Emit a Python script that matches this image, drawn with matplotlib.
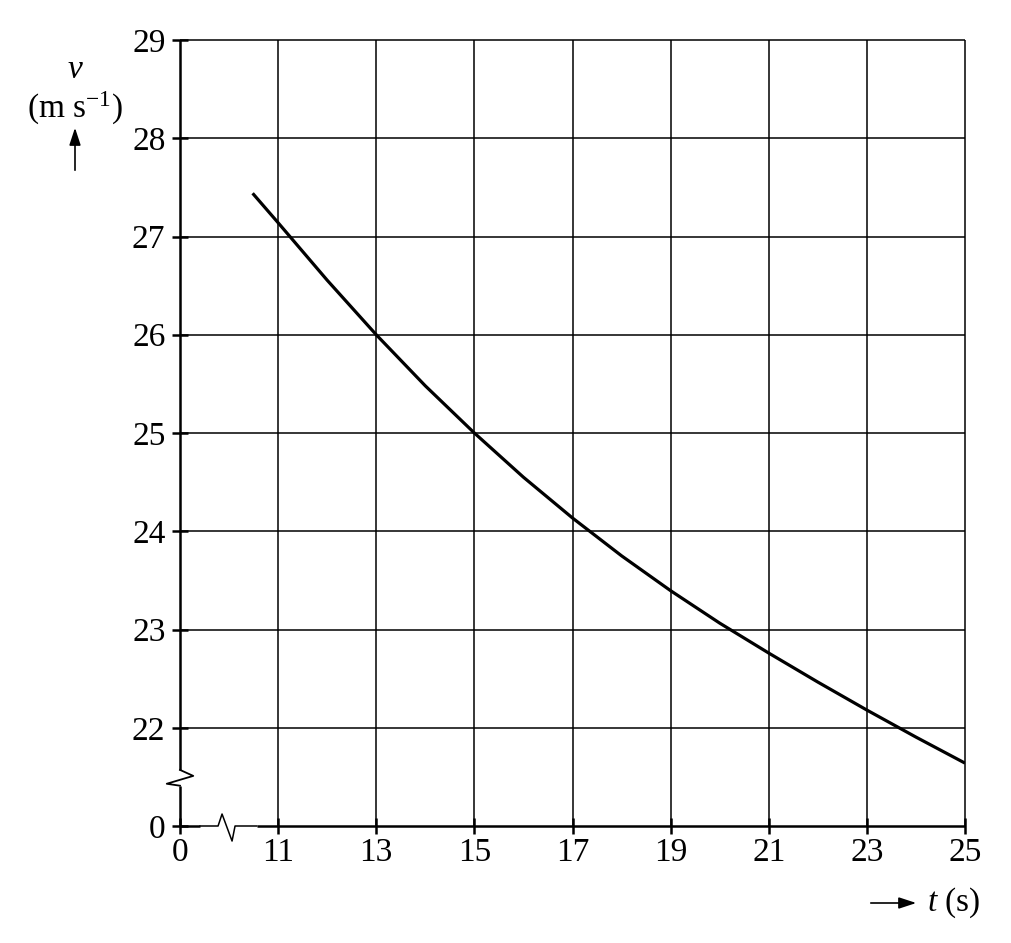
import matplotlib
matplotlib.use('Agg')
import matplotlib.pyplot as plt
import numpy as np

plt.rcParams['font.family'] = 'serif'
plt.rcParams['font.serif'] = ['Liberation Serif', 'DejaVu Serif']
plt.rcParams['mathtext.fontset'] = 'custom'
plt.rcParams['mathtext.rm'] = 'Liberation Serif'
plt.rcParams['mathtext.it'] = 'Liberation Serif:italic'

# speed-time readings (t in s, v in m/s)
t = [10.48, 11, 12, 13, 14, 15, 16, 17, 18, 19, 20, 21, 22, 23, 24, 25]
v = [27.44, 27.14, 26.555, 26.0, 25.48, 25.0, 24.55, 24.135, 23.75, 23.395,
     23.065, 22.76, 22.465, 22.18, 21.905, 21.64]

t_ticks = [0, 11, 13, 15, 17, 19, 21, 23, 25]
v_ticks = [0, 22, 23, 24, 25, 26, 27, 28, 29]

# broken axes: 0 is drawn one grid step below the first real tick
T0_POS = 9
V0_POS = 21


def tpos(x):
    return np.where(np.asarray(x) == 0, T0_POS, x)


def vpos(y):
    return np.where(np.asarray(y) == 0, V0_POS, y)


fig = plt.figure(figsize=(10.11, 9.43), dpi=100)
ax = fig.add_axes([180 / 1011, 117 / 943, 785 / 1011, 786 / 943])
ax.set_xlim(T0_POS, 25)
ax.set_ylim(V0_POS, 29)
for s in ax.spines.values():
    s.set_visible(False)

# grid
gx = tpos(t_ticks)[1:]
gy = vpos(v_ticks)[1:]
ax.vlines(gx, V0_POS, 29, color='black', lw=1.1, clip_on=False, zorder=1)
ax.hlines(gy, T0_POS, 25, color='black', lw=1.1, clip_on=False, zorder=1)

# left axis with break
ax.plot([9, 9], [21, 21.41], color='black', lw=1.8, clip_on=False,
        solid_capstyle='butt', zorder=3)
ax.plot([9, 9], [21.571, 29], color='black', lw=1.8, clip_on=False,
        solid_capstyle='butt', zorder=3)
ax.plot([9, 8.73, 9.27, 9], [21.41, 21.43, 21.51, 21.571], color='black',
        lw=1.3, clip_on=False, zorder=3)

# bottom axis with break
ax.plot([9, 9.41], [21, 21], color='black', lw=1.8, clip_on=False,
        solid_capstyle='butt', zorder=3)
ax.plot([9.41, 9.776, 9.857, 10.061, 10.122, 10.565],
        [21, 21, 21.122, 20.847, 21, 21], color='black', lw=1.1,
        clip_on=False, zorder=3)
ax.plot([10.565, 25], [21, 21], color='black', lw=1.8, clip_on=False,
        solid_capstyle='butt', zorder=3)

# curve
ax.plot(t, v, color='black', lw=2.3, solid_capstyle='butt',
        solid_joinstyle='round', zorder=4)

ax.set_xticks(tpos(t_ticks))
ax.set_xticklabels([str(x) for x in t_ticks])
ax.set_yticks(vpos(v_ticks))
ax.set_yticklabels([str(y) for y in v_ticks])
ax.tick_params(axis='both', direction='inout', length=11, width=1.8,
               labelsize=24, color='black')
ax.tick_params(axis='x', pad=3)
ax.tick_params(axis='y', pad=5)

# axis labels
fig.text(75 / 1011, 1 - 70 / 943, '$v$', fontsize=24, ha='center', va='center')
fig.text(75 / 1011, 1 - 108 / 943, '(m s$^{-1}$)', fontsize=24,
         ha='center', va='center')
fig.add_artist(matplotlib.patches.FancyArrowPatch(
    (75 / 1011, 1 - 173 / 943), (75 / 1011, 1 - 125 / 943),
    transform=fig.transFigure, arrowstyle='-|>,head_length=7,head_width=2.3',
    color='black', lw=1.2, mutation_scale=1.5))
fig.add_artist(matplotlib.patches.FancyArrowPatch(
    (868 / 1011, 1 - 903 / 943), (919 / 1011, 1 - 903 / 943),
    transform=fig.transFigure, arrowstyle='-|>,head_length=7,head_width=2.3',
    color='black', lw=1.2, mutation_scale=1.5))
fig.text(927 / 1011, 1 - 903 / 943, '$t$ (s)', fontsize=24,
         ha='left', va='center')

fig.savefig('out.png', dpi=100)
